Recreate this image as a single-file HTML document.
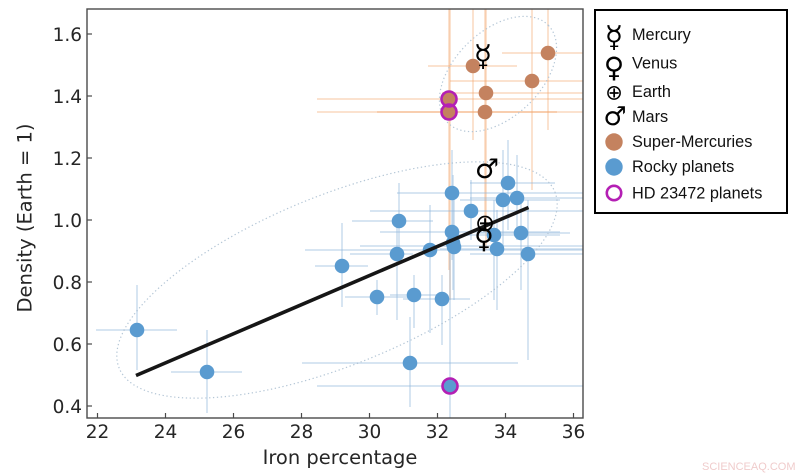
<!DOCTYPE html>
<html><head><meta charset="utf-8"><style>
html,body{margin:0;padding:0;background:#fff;}
svg{display:block;}
</style></head><body>
<svg width="800" height="475" viewBox="0 0 800 475" xmlns="http://www.w3.org/2000/svg">
<defs><clipPath id="pc"><rect x="87" y="9" width="496" height="409"/></clipPath></defs>
<rect width="800" height="475" fill="#fff"/>
<g clip-path="url(#pc)">
 <!-- orange error bars -->
 <g stroke="#f2a66e" stroke-opacity="0.33" stroke-width="2" fill="none">
  <line x1="317" y1="99" x2="583" y2="99"/><line x1="449" y1="9" x2="449" y2="270"/>
  <line x1="317" y1="112" x2="557" y2="112"/><line x1="450" y1="9" x2="450" y2="300"/>
  <line x1="428" y1="66" x2="517" y2="66"/><line x1="473" y1="9" x2="473" y2="140"/>
  <line x1="442" y1="93" x2="583" y2="93"/><line x1="486" y1="9" x2="486" y2="250"/>
  <line x1="377" y1="112" x2="583" y2="112"/><line x1="485" y1="9" x2="485" y2="230"/>
  <line x1="450" y1="81" x2="583" y2="81"/><line x1="532" y1="9" x2="532" y2="190"/>
  <line x1="502" y1="53" x2="583" y2="53"/><line x1="548" y1="9" x2="548" y2="130"/>
 </g>
 <!-- blue error bars -->
 <g stroke="#8fb8dc" stroke-opacity="0.36" stroke-width="2" fill="none">
  <line x1="96" y1="330" x2="177" y2="330"/><line x1="137" y1="285" x2="137" y2="370"/>
  <line x1="171" y1="372" x2="242" y2="372"/><line x1="207" y1="330" x2="207" y2="413"/>
  <line x1="315" y1="266" x2="368" y2="266"/><line x1="342" y1="223" x2="342" y2="307"/>
  <line x1="345" y1="297" x2="420" y2="297"/><line x1="377" y1="280" x2="377" y2="315"/>
  <line x1="390" y1="295" x2="437" y2="295"/><line x1="414" y1="275" x2="414" y2="328"/>
  <line x1="403" y1="299" x2="470" y2="299"/><line x1="442" y1="275" x2="442" y2="345"/>
  <line x1="302" y1="363" x2="518" y2="363"/><line x1="410" y1="317" x2="410" y2="407"/>
  <line x1="350" y1="254" x2="413" y2="254"/><line x1="397" y1="220" x2="397" y2="320"/>
  <line x1="305" y1="250" x2="583" y2="250"/><line x1="430" y1="205" x2="430" y2="333"/>
  <line x1="352" y1="221" x2="433" y2="221"/><line x1="399" y1="183" x2="399" y2="257"/>
  <line x1="397" y1="193" x2="583" y2="193"/><line x1="452" y1="150" x2="452" y2="260"/>
  <line x1="370" y1="211" x2="583" y2="211"/><line x1="471" y1="180" x2="471" y2="240"/>
  <line x1="380" y1="232" x2="560" y2="232"/><line x1="453" y1="175" x2="453" y2="290"/>
  <line x1="360" y1="246" x2="583" y2="246"/><line x1="454" y1="190" x2="454" y2="300"/>
  <line x1="450" y1="235" x2="560" y2="235"/><line x1="494" y1="200" x2="494" y2="300"/>
  <line x1="440" y1="249" x2="583" y2="249"/><line x1="497" y1="210" x2="497" y2="310"/>
  <line x1="480" y1="233" x2="570" y2="233"/><line x1="521" y1="200" x2="521" y2="290"/>
  <line x1="470" y1="254" x2="583" y2="254"/><line x1="528" y1="200" x2="528" y2="360"/>
  <line x1="460" y1="200" x2="560" y2="200"/><line x1="503" y1="150" x2="503" y2="250"/>
  <line x1="470" y1="198" x2="583" y2="198"/><line x1="517" y1="155" x2="517" y2="240"/>
  <line x1="470" y1="183" x2="555" y2="183"/><line x1="508" y1="140" x2="508" y2="230"/>
  <line x1="317" y1="386" x2="583" y2="386"/><line x1="450" y1="250" x2="450" y2="418"/>
 </g>
 <!-- dotted ellipses -->
 <g fill="none" stroke="#b4c6d6" stroke-width="1.2" stroke-dasharray="1.3 2.6">
  <ellipse cx="337" cy="280" rx="235" ry="85" transform="rotate(-22 337 280)"/>
  <ellipse cx="498" cy="74" rx="70" ry="43" transform="rotate(-44 498 74)"/>
 </g>
 <!-- super-mercuries -->
 <g fill="#c4825f">
  <circle cx="473" cy="66" r="7.3"/><circle cx="548" cy="53" r="7.3"/>
  <circle cx="532" cy="81" r="7.3"/><circle cx="486" cy="93" r="7.3"/>
  <circle cx="485" cy="112" r="7.3"/>
  <circle cx="449" cy="99" r="7.3"/><circle cx="449" cy="112" r="7.3"/>
 </g>
 <!-- rocky -->
 <g fill="#5a9bd0">
  <circle cx="137" cy="330" r="7.3"/><circle cx="207" cy="372" r="7.3"/>
  <circle cx="342" cy="266" r="7.3"/><circle cx="377" cy="297" r="7.3"/>
  <circle cx="414" cy="295" r="7.3"/><circle cx="442" cy="299" r="7.3"/>
  <circle cx="410" cy="363" r="7.3"/><circle cx="397" cy="254" r="7.3"/>
  <circle cx="430" cy="250" r="7.3"/><circle cx="399" cy="221" r="7.3"/>
  <circle cx="452" cy="193" r="7.3"/><circle cx="471" cy="211" r="7.3"/>
  <circle cx="452" cy="232" r="7.3"/><circle cx="453" cy="243" r="7.3"/>
  <circle cx="454" cy="247" r="7.3"/><circle cx="494" cy="235" r="7.3"/>
  <circle cx="497" cy="249" r="7.3"/><circle cx="521" cy="233" r="7.3"/>
  <circle cx="528" cy="254" r="7.3"/><circle cx="503" cy="200" r="7.3"/>
  <circle cx="517" cy="198" r="7.3"/><circle cx="508" cy="183" r="7.3"/>
  <circle cx="450" cy="386" r="7.3"/>
 </g>
 <!-- HD rings -->
 <g fill="none" stroke="#b41fb4" stroke-width="2.6">
  <circle cx="449" cy="99" r="7.5"/><circle cx="449" cy="112" r="7.5"/>
  <circle cx="450" cy="386" r="7.5"/>
 </g>
 <!-- regression line -->
 <line x1="136" y1="375.5" x2="528.5" y2="207.5" stroke="#161616" stroke-width="3.6" stroke-linecap="butt"/>
 <!-- solar system symbols -->
 <g font-family="'DejaVu Sans', sans-serif" fill="#000" text-anchor="middle">
  <text x="483" y="66" font-size="30">☿</text>
  <text x="487" y="178" font-size="27">♂</text>
  <text x="484" y="248" font-size="27">♀</text>
  <text x="485" y="231" font-size="24">⊕</text>
 </g>
</g>
<!-- frame -->
<rect x="87" y="9" width="496" height="409" fill="none" stroke="#4a4a4a" stroke-width="1.4"/>
<!-- ticks -->
<g stroke="#4a4a4a" stroke-width="1.2">
 <line x1="97.5" y1="418" x2="97.5" y2="413"/><line x1="165.5" y1="418" x2="165.5" y2="413"/>
 <line x1="233.5" y1="418" x2="233.5" y2="413"/><line x1="301.5" y1="418" x2="301.5" y2="413"/>
 <line x1="369.5" y1="418" x2="369.5" y2="413"/><line x1="437.5" y1="418" x2="437.5" y2="413"/>
 <line x1="505.5" y1="418" x2="505.5" y2="413"/><line x1="573.5" y1="418" x2="573.5" y2="413"/>
 <line x1="87" y1="34" x2="92" y2="34"/><line x1="87" y1="96" x2="92" y2="96"/>
 <line x1="87" y1="158" x2="92" y2="158"/><line x1="87" y1="220" x2="92" y2="220"/>
 <line x1="87" y1="282" x2="92" y2="282"/><line x1="87" y1="344" x2="92" y2="344"/>
 <line x1="87" y1="406" x2="92" y2="406"/>
</g>
<g font-family="'DejaVu Sans', sans-serif" font-size="18.5" fill="#262626">
 <g text-anchor="middle">
  <text x="97.5" y="438">22</text><text x="165.5" y="438">24</text>
  <text x="233.5" y="438">26</text><text x="301.5" y="438">28</text>
  <text x="369.5" y="438">30</text><text x="437.5" y="438">32</text>
  <text x="505.5" y="438">34</text><text x="573.5" y="438">36</text>
 </g>
 <g text-anchor="end">
  <text x="82" y="41">1.6</text><text x="82" y="103">1.4</text>
  <text x="82" y="165">1.2</text><text x="82" y="227">1.0</text>
  <text x="82" y="289">0.8</text><text x="82" y="351">0.6</text>
  <text x="82" y="413">0.4</text>
 </g>
 <text x="340" y="464" text-anchor="middle" font-size="19.5">Iron percentage</text>
 <text transform="translate(31.5 218) rotate(-90)" text-anchor="middle" font-size="19.5">Density (Earth = 1)</text>
</g>
<!-- legend -->
<rect x="595" y="10" width="192" height="203" fill="#fff" stroke="#000" stroke-width="2"/>
<g font-family="'DejaVu Sans', sans-serif" fill="#000" text-anchor="middle">
 <text x="614" y="47" font-size="30">☿</text>
 <text x="614" y="77" font-size="28">♀</text>
 <text x="614" y="99.5" font-size="21">⊕</text>
 <text x="615" y="125" font-size="26">♂</text>
</g>
<circle cx="614" cy="142" r="8.7" fill="#c4825f"/>
<circle cx="614" cy="167" r="8.7" fill="#5a9bd0"/>
<circle cx="614" cy="193" r="7.2" fill="none" stroke="#b41fb4" stroke-width="2.6"/>
<g font-family="'Liberation Sans', Arial, sans-serif" font-size="16.3" fill="#111">
 <text x="632" y="40">Mercury</text>
 <text x="632" y="68.5">Venus</text>
 <text x="632" y="97">Earth</text>
 <text x="632" y="122">Mars</text>
 <text x="632" y="147">Super-Mercuries</text>
 <text x="632" y="172">Rocky planets</text>
 <text x="632" y="198.5">HD 23472 planets</text>
</g>
<text x="702" y="470" font-family="'Liberation Sans', Arial, sans-serif" font-size="11" fill="#f0cccc">SCIENCEAQ.COM</text>
</svg>
</body></html>
